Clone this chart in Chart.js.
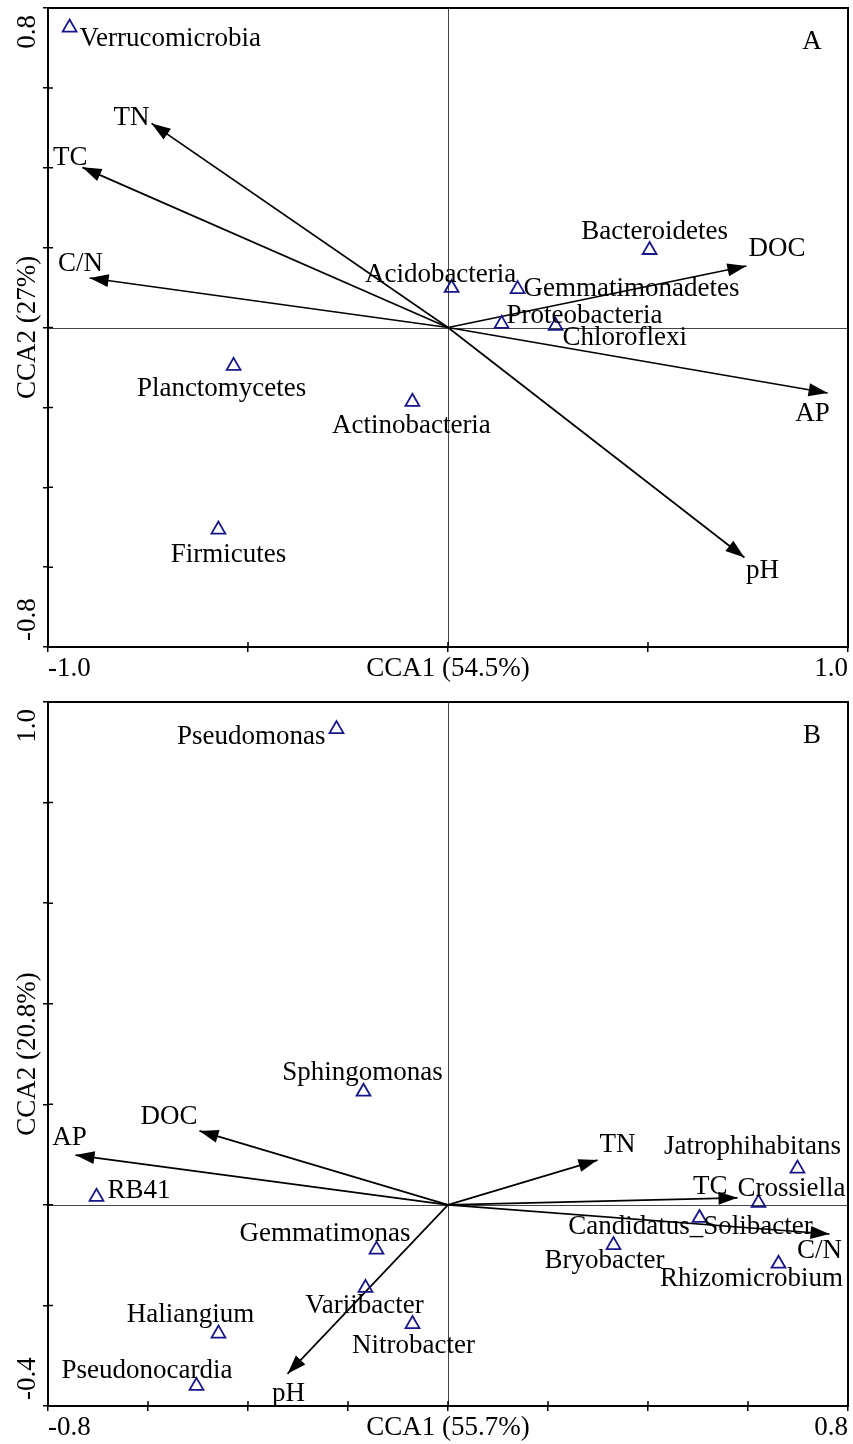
<!DOCTYPE html>
<html>
<head>
<meta charset="utf-8">
<script src="https://cdn.jsdelivr.net/npm/chart.js@4.4.1/dist/chart.umd.min.js"></script>
<style>
  html, body { margin: 0; padding: 0; background: #fff; }
  canvas { display: block; }
</style>
</head>
<body>
<canvas id="chartA" width="853" height="690"></canvas>
<canvas id="chartB" width="853" height="754"></canvas>
<script>
// ---- Panel A: phylum level ----
const taxaA = ['Verrucomicrobia', 'Acidobacteria', 'Gemmatimonadetes', 'Bacteroidetes', 'Proteobacteria',
               'Chloroflexi', 'Planctomycetes', 'Actinobacteria', 'Firmicutes'];
const taxaA_cca1 = [-0.946, 0.009, 0.174, 0.504, 0.134, 0.269, -0.536, -0.089, -0.574];
const taxaA_cca2 = [0.751, 0.099, 0.096, 0.194, 0.009, 0.004, -0.096, -0.186, -0.506];
const envA = ['TN', 'TC', 'C/N', 'DOC', 'AP', 'pH'];
const envA_cca1 = [-0.741, -0.914, -0.896, 0.746, 0.949, 0.741];
const envA_cca2 = [0.511, 0.401, 0.124, 0.154, -0.164, -0.576];

// ---- Panel B: genus level ----
const taxaB = ['Pseudomonas', 'Sphingomonas', 'RB41', 'Gemmatimonas', 'Variibacter', 'Nitrobacter',
               'Haliangium', 'Pseudonocardia', 'Jatrophihabitans', 'Crossiella', 'Candidatus_Solibacter',
               'Bryobacter', 'Rhizomicrobium'];
const taxaB_cca1 = [-0.223, -0.169, -0.703, -0.143, -0.165, -0.071, -0.459, -0.503, 0.699, 0.621, 0.503, 0.331, 0.661];
const taxaB_cca2 = [0.946, 0.225, 0.016, -0.089, -0.165, -0.237, -0.256, -0.360, 0.072, 0.004, -0.026, -0.080, -0.117];
const envB = ['AP', 'DOC', 'TN', 'TC', 'C/N', 'pH'];
const envB_cca1 = [-0.745, -0.497, 0.299, 0.579, 0.763, -0.321];
const envB_cca2 = [0.099, 0.147, 0.089, 0.014, -0.058, -0.336];

// label placement next to each mark: [dx, dy(baseline), align]
const taxaA_lab = [[10, 18, 'left'], [-11, -6, 'center'], [6, 7, 'left'], [5, -11, 'center'], [5, -1, 'left'],
                   [7, 19, 'left'], [-12, 30, 'center'], [-1, 31, 'center'], [10, 32, 'center']];
const envA_lab = [[-2, 2, 'right'], [5, -2, 'right'], [-9, -7, 'center'], [2, -10, 'left'], [-15, 28, 'center'], [18, 20, 'center']];
const taxaB_lab = [[-11, 15, 'right'], [-1, -12, 'center'], [11, 1, 'left'], [34, -9, 'right'], [-1, 25, 'center'],
                   [1, 29, 'center'], [-28, -12, 'center'], [36, -8, 'right'], [-45, -15, 'center'], [-21, -7, 'left'],
                   [-9, 16, 'center'], [-9, 23, 'center'], [-27, 22, 'center']];
const envB_lab = [[-6, -10, 'center'], [-2, -7, 'right'], [2, -8, 'left'], [-10, -4, 'right'], [-10, 24, 'center'], [1, 27, 'center']];

const FONT = "27px 'Liberation Serif', 'Times New Roman', serif";
const TRI = '#16168a';

const biplotDecor = {
  id: 'biplotDecor',
  beforeDatasetsDraw(chart) {
    const { ctx, chartArea: a, scales: { x, y } } = chart;
    // origin cross lines
    ctx.save();
    ctx.strokeStyle = '#444';
    ctx.lineWidth = 1;
    const x0 = Math.round(x.getPixelForValue(0)) + 0.5;
    const y0 = Math.round(y.getPixelForValue(0)) + 0.5;
    ctx.beginPath();
    ctx.moveTo(x0, a.top); ctx.lineTo(x0, a.bottom);
    ctx.moveTo(a.left, y0); ctx.lineTo(a.right, y0);
    ctx.stroke();
    ctx.restore();
  },
  afterDatasetsDraw(chart, args, o) {
    const { ctx, chartArea: a, scales: { x, y } } = chart;
    ctx.save();

    // arrowheads on the environmental vectors
    chart.data.datasets.forEach((ds, i) => {
      if (!ds.isArrow) return;
      const pts = chart.getDatasetMeta(i).data;
      const p0 = pts[0], p1 = pts[1];
      const ang = Math.atan2(p1.y - p0.y, p1.x - p0.x);
      const len = 19, hw = 6.5;
      ctx.fillStyle = '#000';
      ctx.beginPath();
      ctx.moveTo(p1.x, p1.y);
      ctx.lineTo(p1.x - len * Math.cos(ang) + hw * Math.sin(ang), p1.y - len * Math.sin(ang) - hw * Math.cos(ang));
      ctx.lineTo(p1.x - len * Math.cos(ang) - hw * Math.sin(ang), p1.y - len * Math.sin(ang) + hw * Math.cos(ang));
      ctx.closePath();
      ctx.fill();
    });

    // text labels
    ctx.font = FONT;
    ctx.fillStyle = '#000';
    ctx.textBaseline = 'alphabetic';
    const taxaMeta = chart.getDatasetMeta(0).data;
    o.taxa.forEach((name, i) => {
      const [dx, dy, al] = o.taxaLab[i];
      ctx.textAlign = al;
      ctx.fillText(name, taxaMeta[i].x + dx, taxaMeta[i].y + dy);
    });
    o.env.forEach((name, i) => {
      const tip = chart.getDatasetMeta(i + 1).data[1];
      const [dx, dy, al] = o.envLab[i];
      ctx.textAlign = al;
      ctx.fillText(name, tip.x + dx, tip.y + dy);
    });

    // frame
    ctx.strokeStyle = '#000';
    ctx.lineWidth = 2;
    ctx.strokeRect(a.left, a.top, a.right - a.left, a.bottom - a.top);

    // inner half of the tick marks
    ctx.lineWidth = 1.5;
    ctx.beginPath();
    x.ticks.forEach(t => {
      const px = x.getPixelForValue(t.value);
      ctx.moveTo(px, a.bottom); ctx.lineTo(px, a.bottom - 5);
    });
    y.ticks.forEach(t => {
      const py = y.getPixelForValue(t.value);
      ctx.moveTo(a.left, py); ctx.lineTo(a.left + 5, py);
    });
    ctx.stroke();

    // x axis: end labels and title on one line
    const xb = a.bottom + o.xTextGap;
    ctx.textAlign = 'left';
    ctx.fillText(o.xMinLabel, a.left, xb);
    ctx.textAlign = 'right';
    ctx.fillText(o.xMaxLabel, a.right, xb);
    ctx.textAlign = 'center';
    ctx.fillText(o.xTitle, (a.left + a.right) / 2, xb);

    // y axis: rotated end labels and title
    const yb = 35;
    const rot = (txt, py, al) => {
      ctx.save();
      ctx.translate(yb, py);
      ctx.rotate(-Math.PI / 2);
      ctx.textAlign = al;
      ctx.fillText(txt, 0, 0);
      ctx.restore();
    };
    rot(o.yMaxLabel, a.top + 7, 'right');
    rot(o.yMinLabel, a.bottom - 6, 'left');
    rot(o.yTitle, (a.top + a.bottom) / 2, 'center');

    // panel letter
    ctx.textAlign = 'center';
    ctx.fillText(o.letter, a.right - 36, a.top + 41);

    ctx.restore();
  }
};

function makeBiplot(id, cfg) {
  const arrows = cfg.env.map((name, i) => ({
    type: 'line',
    label: name,
    isArrow: true,
    data: [{ x: 0, y: 0 }, { x: cfg.envX[i], y: cfg.envY[i] }],
    borderColor: '#000',
    borderWidth: 1.7,
    pointRadius: 0,
    fill: false
  }));
  return new Chart(document.getElementById(id), {
    type: 'scatter',
    data: {
      datasets: [{
        label: 'taxa',
        data: cfg.taxa.map((n, i) => ({ x: cfg.taxaX[i], y: cfg.taxaY[i] })),
        pointStyle: 'triangle',
        pointRadius: 8,
        borderColor: TRI,
        borderWidth: 1.8,
        backgroundColor: 'rgba(0,0,0,0)'
      }, ...arrows]
    },
    options: {
      responsive: false,
      animation: false,
      layout: { autoPadding: false, padding: { top: cfg.padTop, right: 5, left: 0, bottom: 0 } },
      plugins: {
        legend: { display: false },
        tooltip: { enabled: false },
        biplotDecor: {
          taxa: cfg.taxa, taxaLab: cfg.taxaLab, env: cfg.env, envLab: cfg.envLab,
          xMinLabel: cfg.xMinLabel, xMaxLabel: cfg.xMaxLabel, xTitle: cfg.xTitle,
          yMinLabel: cfg.yMinLabel, yMaxLabel: cfg.yMaxLabel, yTitle: cfg.yTitle,
          letter: cfg.letter, xTextGap: 29
        }
      },
      scales: {
        x: {
          type: 'linear', min: cfg.xMin, max: cfg.xMax,
          ticks: { stepSize: cfg.xStep, display: false },
          grid: { drawOnChartArea: false, tickLength: 5, color: '#000', lineWidth: 1.5 },
          border: { color: '#000', width: 2 },
          afterFit(s) { s.height = cfg.padBottom; }
        },
        y: {
          type: 'linear', min: cfg.yMin, max: cfg.yMax,
          ticks: { stepSize: 0.2, display: false },
          grid: { drawOnChartArea: false, tickLength: 5, color: '#000', lineWidth: 1.5 },
          border: { color: '#000', width: 2 },
          afterFit(s) { s.width = 48; }
        }
      }
    },
    plugins: [biplotDecor]
  });
}

makeBiplot('chartA', {
  taxa: taxaA, taxaX: taxaA_cca1, taxaY: taxaA_cca2, taxaLab: taxaA_lab,
  env: envA, envX: envA_cca1, envY: envA_cca2, envLab: envA_lab,
  xMin: -1, xMax: 1, xStep: 0.5, yMin: -0.8, yMax: 0.8,
  xMinLabel: '-1.0', xMaxLabel: '1.0', xTitle: 'CCA1 (54.5%)',
  yMinLabel: '-0.8', yMaxLabel: '0.8', yTitle: 'CCA2 (27%)',
  letter: 'A', padTop: 8, padBottom: 43
});

makeBiplot('chartB', {
  taxa: taxaB, taxaX: taxaB_cca1, taxaY: taxaB_cca2, taxaLab: taxaB_lab,
  env: envB, envX: envB_cca1, envY: envB_cca2, envLab: envB_lab,
  xMin: -0.8, xMax: 0.8, xStep: 0.2, yMin: -0.4, yMax: 1.0,
  xMinLabel: '-0.8', xMaxLabel: '0.8', xTitle: 'CCA1 (55.7%)',
  yMinLabel: '-0.4', yMaxLabel: '1.0', yTitle: 'CCA2 (20.8%)',
  letter: 'B', padTop: 12, padBottom: 38
});
</script>
</body>
</html>
